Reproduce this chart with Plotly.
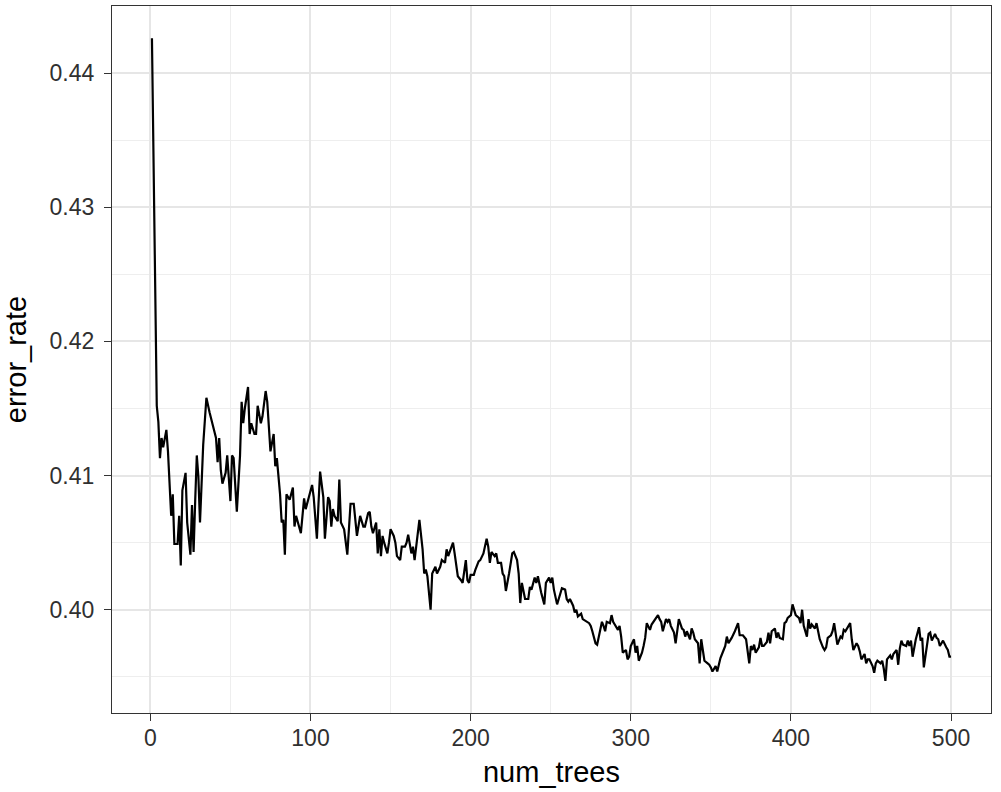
import plotly.graph_objects as go

num_trees = [
    1, 2, 4, 5, 6, 7, 8, 10, 11, 13, 14, 15, 17, 18, 19, 20, 22, 23, 25, 26,
    27, 28, 29, 30, 31, 33, 34, 35, 37, 40, 41, 42, 43, 44, 45, 47, 48, 50, 51, 52,
    54, 56, 57, 58, 59, 61, 62, 63, 65, 66, 67, 69, 70, 72, 73, 75, 77, 78, 79, 81,
    82, 83, 84, 85, 87, 89, 90, 91, 93, 94, 96, 97, 99, 101, 102, 104, 105, 106, 108, 109,
    111, 112, 113, 114, 115, 117, 118, 119, 121, 122, 123, 124, 125, 127, 128, 129, 131, 132, 133, 134,
    136, 137, 138, 139, 141, 142, 143, 144, 145, 146, 148, 149, 150, 152, 153, 154, 156, 157, 159, 160,
    161, 163, 164, 165, 167, 168, 170, 171, 172, 173, 175, 176, 178, 179, 181, 182, 184, 185, 186, 188,
    189, 190, 191, 192, 194, 195, 197, 198, 199, 200, 202, 203, 205, 206, 208, 209, 210, 211, 212, 213,
    215, 216, 217, 219, 220, 221, 222, 224, 225, 226, 227, 229, 230, 231, 232, 233, 234, 236, 237, 238,
    240, 241, 242, 244, 245, 246, 247, 249, 250, 251, 252, 254, 255, 256, 257, 259, 260, 261, 262, 264,
    265, 266, 267, 269, 270, 274, 275, 276, 278, 279, 280, 282, 283, 284, 285, 287, 288, 289, 290, 292,
    293, 294, 295, 297, 298, 299, 300, 302, 303, 304, 305, 307, 308, 309, 310, 312, 313, 314, 315, 317,
    318, 319, 320, 322, 323, 324, 325, 327, 328, 329, 330, 332, 333, 334, 335, 337, 338, 339, 340, 342,
    343, 344, 345, 346, 348, 349, 350, 351, 353, 354, 355, 356, 358, 359, 360, 361, 363, 364, 365, 367,
    368, 370, 371, 372, 374, 375, 376, 377, 378, 380, 381, 382, 383, 385, 386, 387, 388, 390, 391, 392,
    393, 395, 396, 397, 398, 400, 401, 402, 403, 405, 406, 407, 408, 410, 411, 412, 413, 415, 416, 417,
    418, 420, 421, 422, 423, 425, 426, 427, 428, 429, 431, 432, 433, 434, 436, 437, 438, 439, 441, 442,
    443, 444, 446, 447, 448, 449, 451, 452, 453, 454, 456, 457, 458, 459, 460, 462, 463, 464, 466, 467,
    468, 469, 470, 472, 473, 474, 475, 476, 478, 479, 480, 481, 482, 483, 485, 486, 487, 488, 490, 491,
    492, 493, 495, 496, 497, 498, 499, 500,
]

error_rate = [
    0.4426, 0.4330, 0.4152, 0.4140, 0.4113, 0.4128, 0.4121, 0.4134, 0.4118, 0.4070,
    0.4086, 0.4049, 0.4049, 0.4070, 0.4033, 0.4089, 0.4102, 0.4065, 0.4041, 0.4078,
    0.4043, 0.4081, 0.4115, 0.4099, 0.4065, 0.4123, 0.4144, 0.4158, 0.4147, 0.4131,
    0.4128, 0.4110, 0.4128, 0.4104, 0.4094, 0.4102, 0.4115, 0.4081, 0.4115, 0.4113,
    0.4073, 0.4115, 0.4155, 0.4139, 0.4150, 0.4166, 0.4131, 0.4139, 0.4131, 0.4131,
    0.4152, 0.4139, 0.4144, 0.4163, 0.4155, 0.4118, 0.4131, 0.4107, 0.4113, 0.4086,
    0.4065, 0.4067, 0.4041, 0.4086, 0.4082, 0.4091, 0.4062, 0.4070, 0.4060, 0.4057,
    0.4083, 0.4075, 0.4084, 0.4093, 0.4084, 0.4053, 0.4079, 0.4103, 0.4084, 0.4053,
    0.4084, 0.4081, 0.4062, 0.4075, 0.4070, 0.4066, 0.4097, 0.4065, 0.4060, 0.4052,
    0.4041, 0.4060, 0.4079, 0.4079, 0.4067, 0.4055, 0.4070, 0.4066, 0.4062, 0.4062,
    0.4072, 0.4073, 0.4062, 0.4057, 0.4065, 0.4042, 0.4060, 0.4040, 0.4055, 0.4050,
    0.4042, 0.4050, 0.4060, 0.4055, 0.4050, 0.4040, 0.4037, 0.4047, 0.4047, 0.4050,
    0.4056, 0.4042, 0.4047, 0.4037, 0.4057, 0.4067, 0.4045, 0.4027, 0.4030, 0.4025,
    0.4000, 0.4027, 0.4032, 0.4027, 0.4032, 0.4037, 0.4035, 0.4045, 0.4040, 0.4046,
    0.4050, 0.4042, 0.4032, 0.4025, 0.4022, 0.4020, 0.4037, 0.4022, 0.4020, 0.4026,
    0.4026, 0.4030, 0.4036, 0.4037, 0.4042, 0.4047, 0.4053, 0.4047, 0.4035, 0.4043,
    0.4040, 0.4042, 0.4035, 0.4035, 0.4027, 0.4025, 0.4014, 0.4027, 0.4035, 0.4042,
    0.4043, 0.4037, 0.4027, 0.4005, 0.4020, 0.4015, 0.4008, 0.4008, 0.4017, 0.4015,
    0.4024, 0.4020, 0.4025, 0.4013, 0.4008, 0.4004, 0.4020, 0.4024, 0.4020, 0.4024,
    0.4015, 0.4004, 0.4008, 0.4013, 0.4016, 0.4015, 0.4008, 0.4006, 0.4008, 0.4003,
    0.3998, 0.4000, 0.3995, 0.3997, 0.3993, 0.3990, 0.3988, 0.3984, 0.3975, 0.3974,
    0.3980, 0.3991, 0.3988, 0.3984, 0.3991, 0.3990, 0.3996, 0.3991, 0.3989, 0.3985,
    0.3988, 0.3980, 0.3968, 0.3970, 0.3963, 0.3965, 0.3973, 0.3978, 0.3968, 0.3973,
    0.3962, 0.3968, 0.3973, 0.3979, 0.3990, 0.3985, 0.3989, 0.3991, 0.3993, 0.3996,
    0.3993, 0.3991, 0.3984, 0.3993, 0.3991, 0.3993, 0.3988, 0.3983, 0.3975, 0.3984,
    0.3993, 0.3986, 0.3985, 0.3980, 0.3984, 0.3978, 0.3986, 0.3983, 0.3978, 0.3975,
    0.3960, 0.3978, 0.3968, 0.3962, 0.3960, 0.3959, 0.3957, 0.3954, 0.3958, 0.3954,
    0.3959, 0.3964, 0.3970, 0.3973, 0.3980, 0.3975, 0.3979, 0.3981, 0.3984, 0.3990,
    0.3981, 0.3981, 0.3979, 0.3978, 0.3960, 0.3973, 0.3970, 0.3974, 0.3968, 0.3972,
    0.3979, 0.3973, 0.3973, 0.3976, 0.3983, 0.3975, 0.3984, 0.3986, 0.3979, 0.3983,
    0.3979, 0.3978, 0.3990, 0.3991, 0.3994, 0.3996, 0.4004, 0.4000, 0.3996, 0.3994,
    0.3990, 0.4000, 0.3988, 0.3980, 0.3993, 0.3986, 0.3989, 0.3986, 0.3990, 0.3984,
    0.3978, 0.3972, 0.3970, 0.3972, 0.3979, 0.3981, 0.3984, 0.3990, 0.3980, 0.3974,
    0.3980, 0.3979, 0.3985, 0.3984, 0.3988, 0.3990, 0.3978, 0.3970, 0.3975, 0.3973,
    0.3969, 0.3963, 0.3967, 0.3960, 0.3963, 0.3963, 0.3958, 0.3953, 0.3960, 0.3962,
    0.3960, 0.3962, 0.3956, 0.3947, 0.3963, 0.3966, 0.3963, 0.3967, 0.3970, 0.3959,
    0.3971, 0.3977, 0.3974, 0.3973, 0.3977, 0.3973, 0.3977, 0.3965, 0.3978, 0.3983,
    0.3987, 0.3977, 0.3979, 0.3957, 0.3976, 0.3982, 0.3983, 0.3977, 0.3982, 0.3979,
    0.3978, 0.3973, 0.3977, 0.3974, 0.3972, 0.3970, 0.3965, 0.3965,
]

x_ticks = [0, 100, 200, 300, 400, 500]
y_ticks = [0.40, 0.41, 0.42, 0.43, 0.44]
y_tick_labels = ["0.40", "0.41", "0.42", "0.43", "0.44"]


def expand(vals, frac=0.05):
    lo, hi = min(vals), max(vals)
    pad = (hi - lo) * frac
    return [lo - pad, hi + pad]


FONT = "Liberation Sans, Arial, Helvetica, sans-serif"
BORDER = "#333333"
GRID = "#E6E6E6"
GRID_MINOR = "#EEEEEE"

fig = go.Figure(
    go.Scatter(
        x=num_trees,
        y=error_rate,
        mode="lines",
        line=dict(color="black", width=2.2),
        hoverinfo="skip",
    )
)

fig.update_layout(
    width=1001,
    height=792,
    margin=dict(l=112, r=10, t=6, b=79),
    paper_bgcolor="white",
    plot_bgcolor="white",
    showlegend=False,
    font=dict(family=FONT, color="#303030"),
)

fig.update_xaxes(
    range=expand(num_trees),
    tickvals=x_ticks,
    ticktext=[str(v) for v in x_ticks],
    tickfont=dict(size=23, color="#303030", family=FONT),
    ticks="outside",
    ticklen=7,
    tickwidth=1.3,
    tickcolor=BORDER,
    ticklabelstandoff=-3,
    showgrid=True,
    gridcolor=GRID,
    gridwidth=1.6,
    minor=dict(dtick=50, tick0=0, showgrid=True, gridcolor=GRID_MINOR, gridwidth=1, ticks=""),
    showline=True,
    linecolor=BORDER,
    linewidth=1.3,
    mirror=True,
    zeroline=False,
    title=dict(text="num_trees", font=dict(size=29, color="black", family=FONT), standoff=11),
    automargin=False,
)

fig.update_yaxes(
    range=expand(error_rate),
    tickvals=y_ticks,
    ticktext=y_tick_labels,
    tickfont=dict(size=23, color="#303030", family=FONT),
    ticks="outside",
    ticklen=7,
    tickwidth=1.3,
    tickcolor=BORDER,
    ticklabelstandoff=5,
    showgrid=True,
    gridcolor=GRID,
    gridwidth=1.6,
    minor=dict(dtick=0.005, tick0=0.40, showgrid=True, gridcolor=GRID_MINOR, gridwidth=1, ticks=""),
    showline=True,
    linecolor=BORDER,
    linewidth=1.3,
    mirror=True,
    zeroline=False,
    title=dict(text="error_rate", font=dict(size=29, color="black", family=FONT), standoff=16),
    automargin=False,
)

fig.write_html(
    "out.html",
    config={"displayModeBar": False},
    post_script="document.body.style.margin='0';document.body.style.overflow='hidden';",
)
